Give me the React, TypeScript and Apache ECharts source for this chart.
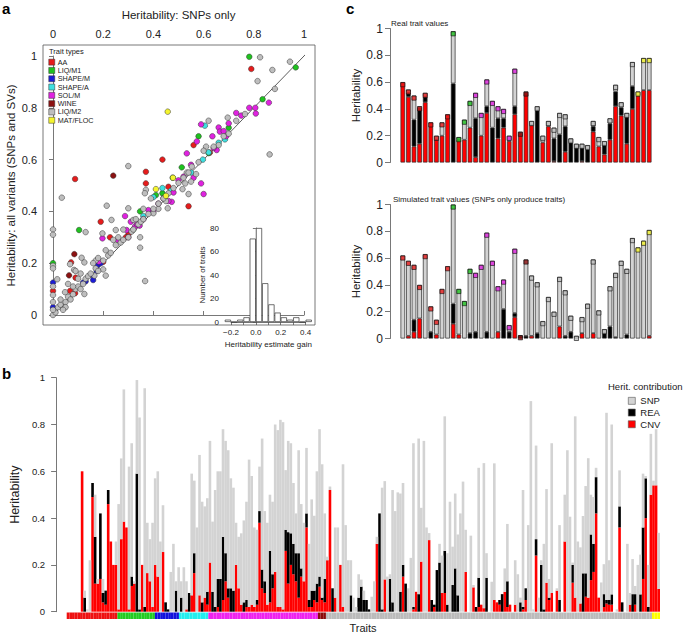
import React, { useEffect, useRef } from 'react';
import * as echarts from 'echarts';

const FONT = '"Liberation Sans", Arial, Helvetica, sans-serif';

// ---------- trait types ----------
const traitTypes = ['AA', 'LIQ/M1', 'SHAPE/M', 'SHAPE/A', 'SOL/M', 'WINE', 'LIQ/M2', 'MAT/FLOC'];
const traitColors = ['#e61c1c', '#1fc21f', '#1c1cd6', '#3ee0e0', '#e022e0', '#8c1212', '#bebebe', '#f4f42e'];
const stripColors = ['#ee1111', '#22cc22', '#1111dd', '#22eeee', '#ee22ee', '#8b0a0a', '#bbbbbb', '#ffff00'];
const traitGroupSizes = [19, 14, 9, 11, 41, 3, 122, 4];

// ---------- panel a: scatter (x = SNPs only, y = all variants) ----------
const pointsAA = [[0.79,0.95],[0.56,0.656],[0.436,0.6],[0.37,0.553],[0.37,0.508],[0.46,0.495],[0.54,0.42],[0.625,0.627],[0.088,0.525],[0.19,0.36],[0.227,0.3],[0.3,0.31],[0.072,0.203],[0.09,0.144],[0.0,0.093],[0.068,0.093],[0.088,0.084],[0.2,0.205],[0.29,0.3]];
const pointsLIQM1 = [[0.782,0.997],[0.967,0.956],[0.835,0.833],[0.7,0.723],[0.58,0.69],[0.513,0.57],[0.477,0.53],[0.41,0.463],[0.436,0.47],[0.347,0.4],[0.104,0.328],[0.0,0.2],[0.62,0.625],[0.32,0.33]];
const pointsSHAPEM = [[0.0,0.125],[0.16,0.135],[0.174,0.17],[0.178,0.193],[0.15,0.155],[0.13,0.13],[0.19,0.2],[0.12,0.125],[0.0,0.03]];
const pointsSHAPEA = [[0.605,0.731],[0.597,0.6],[0.62,0.628],[0.685,0.678],[0.436,0.49],[0.4,0.455],[0.36,0.382],[0.55,0.55],[0.47,0.48],[0.66,0.665],[0.39,0.4]];
const pointsSOLM = [[0.782,0.8],[0.806,0.8],[0.808,0.778],[0.86,0.82],[0.73,0.78],[0.7,0.74],[0.66,0.724],[0.665,0.708],[0.635,0.69],[0.59,0.736],[0.573,0.67],[0.533,0.624],[0.652,0.637],[0.56,0.53],[0.59,0.508],[0.6,0.467],[0.52,0.534],[0.48,0.473],[0.473,0.437],[0.42,0.43],[0.38,0.405],[0.327,0.341],[0.293,0.328],[0.287,0.382],[0.258,0.29],[0.197,0.296],[0.183,0.206],[0.31,0.36],[0.335,0.35],[0.345,0.345],[0.4,0.4],[0.44,0.45],[0.46,0.44],[0.69,0.69],[0.64,0.645],[0.55,0.58],[0.5,0.52],[0.36,0.37],[0.3,0.3],[0.75,0.77],[0.68,0.71]];
const pointsWINE = [[0.24,0.538],[0.085,0.235],[0.064,0.153]];
const pointsLIQM2 = [[0.825,0.995],[0.944,0.978],[0.874,0.946],[0.815,0.903],[0.884,0.873],[0.863,0.62],[0.765,0.776],[0.73,0.75],[0.696,0.762],[0.62,0.75],[0.61,0.65],[0.6,0.634],[0.66,0.656],[0.7,0.7],[0.553,0.573],[0.533,0.55],[0.527,0.508],[0.516,0.486],[0.54,0.467],[0.55,0.515],[0.57,0.544],[0.457,0.412],[0.45,0.44],[0.42,0.41],[0.4,0.393],[0.37,0.483],[0.366,0.47],[0.3,0.575],[0.035,0.453],[0.214,0.422],[0.3,0.412],[0.233,0.367],[0.25,0.328],[0.32,0.367],[0.313,0.322],[0.347,0.3],[0.347,0.26],[0.367,0.131],[0.13,0.32],[0.0,0.33],[0.0,0.31],[0.197,0.315],[0.0,0.19],[0.0,0.18],[0.0,0.11],[0.0,0.077],[0.017,0.138],[0.114,0.221],[0.125,0.203],[0.068,0.196],[0.084,0.174],[0.165,0.152],[0.2,0.176],[0.21,0.152],[0.125,0.081],[0.048,0.088],[0.035,0.032],[0.0,0.0],[0.01,0.01],[0.02,0.03],[0.03,0.04],[0.05,0.05],[0.06,0.07],[0.07,0.06],[0.08,0.08],[0.09,0.1],[0.1,0.11],[0.11,0.1],[0.12,0.12],[0.13,0.14],[0.14,0.15],[0.15,0.16],[0.17,0.18],[0.18,0.17],[0.2,0.21],[0.22,0.23],[0.23,0.24],[0.25,0.27],[0.27,0.28],[0.28,0.29],[0.3,0.3],[0.32,0.33],[0.34,0.35],[0.35,0.36],[0.36,0.37],[0.38,0.39],[0.4,0.41],[0.42,0.43],[0.44,0.45],[0.46,0.47],[0.48,0.49],[0.5,0.51],[0.52,0.53],[0.54,0.55],[0.58,0.59],[0.64,0.65],[0.68,0.69],[0.05,0.03],[0.04,0.02],[0.0,0.05],[0.0,0.02],[0.03,0.06],[0.08,0.11],[0.1,0.14],[0.06,0.12],[0.17,0.21],[0.26,0.3],[0.28,0.33],[0.39,0.45],[0.36,0.41],[0.33,0.37],[0.24,0.29],[0.21,0.25],[0.11,0.16],[0.09,0.17],[0.16,0.2],[0.18,0.22]];
const pointsMATFLOC = [[0.457,0.785],[0.478,0.53],[0.41,0.486],[0.45,0.46]];
const scatterByType = [pointsAA, pointsLIQM1, pointsSHAPEM, pointsSHAPEA, pointsSOLM, pointsWINE, pointsLIQM2, pointsMATFLOC];
const identityLine = [[-0.04, -0.04], [1.04, 1.04]];

// ---------- panel a inset: histogram of heritability estimate gain ----------
const histBinCenters = [-0.225,-0.175,-0.125,-0.075,-0.025,0.025,0.075,0.125,0.175,0.225,0.275,0.325,0.375,0.425];
const histCounts = [2, 0, 2, 4, 71, 80, 33, 15, 8, 4, 2, 4, 0, 2];
const histTickLabels: Record<string, string> = { '-0.2': '\u22120.2', '0': '0.0', '0.2': '0.2', '0.4': '0.4' };

// ---------- panel b: contributions per trait (223 traits) ----------
const cnvB = [0.6,0,0,0,0.49,0.12,0.12,0.14,0.04,0.03,0.46,0.3,0.2,0.2,0.01,0.31,0.385,0.36,0.01,
  0.11,0.12,0,0,0.2,0,0.165,0.13,0.02,0.2,0.15,0,0.255,0,
  0,0,0,0,0,0,0,0.01,0,
  0.07,0.165,0,0.07,0,0.06,0.03,0.21,0,0,0.02,
  0,0.05,0.13,0.06,0,0,0.2,0.1,0.03,0,0.02,0.02,0.03,0.02,0.03,0.38,0.1,0.08,0.03,0.04,0.1,0.17,0.02,0.02,0.01,0.26,0.12,0.2,0.16,0.13,0.06,0.15,0.13,0.36,0.02,0.02,0.05,0.04,0.107,0.05,0.04,
  0.22,0.52,0,
  0.06,0,0.2,0.02,0,0,0,0,0,0,0,0,0,0,0,0,0.29,0,0,0.138,0,0,0,0,0,0,0.15,0,0,0,0.01,0.085,0,0.214,0,0,0.306,0,0.02,0,0,0.08,0.08,0,0,0,0,0,0,0,0.17,0,0,0.104,0,0.02,0.03,0.015,0,0,0,0.05,0.04,0.03,0,0.085,0.02,0.03,0,0.03,0,0,0.01,0.05,0,0,0,0.24,0,0,0,0.124,0.05,0.08,0,0.09,0,0,0.3,0,0,0.124,0.06,0,0.035,0,0.064,0.06,0.135,0.17,0.42,0.06,0,0.02,0.035,0.03,0.03,0,0,0.36,0,0,0,0.03,0,0.03,0,0,0.14,0.4,0,
  0.5,0.54,0.54,0.097];
const reaB = [0,0.06,0,0,0.06,0.2,0,0.28,0.04,0.06,0.06,0,0,0,0,0,0,0,0,
  0.04,0,0.59,0.01,0,0.02,0,0,0,0,0,0,0,0.04,
  0.01,0,0,0.09,0,0.06,0,0,0.08,
  0,0.085,0,0,0.04,0,0.055,0,0.085,0.02,0.12,
  0.14,0.27,0.12,0.04,0.1,0.09,0,0,0,0.04,0.03,0,0,0,0.02,0.05,0.08,0.05,0,0.22,0.06,0,0,0,0,0.09,0.22,0.135,0.13,0.12,0.19,0.035,0,0.06,0.03,0.07,0.04,0.08,0.043,0.01,0.1,
  0,0,0.1,
  0,0,0,0,0,0,0.07,0,0,0.06,0.107,0.05,0.05,0.01,0,0,0,0.42,0.01,0,0,0.14,0.04,0,0,0.085,0.05,0.12,0,0,0.01,0,0.075,0,0,0,0,0.05,0.01,0.178,0.21,0,0.18,0.03,0,0.114,0.185,0.07,0,0,0,0,0,0,0.02,0.125,0,0,0.145,0,0,0,0,0.02,0.075,0,0.11,0,0,0,0,0.04,0.01,0.05,0,0,0,0.07,0,0.2,0.01,0,0.01,0,0,0,0.05,0,0,0,0,0.076,0,0,0,0.164,0.1,0,0.195,0.12,0.155,0,0,0.055,0.015,0.02,0.044,0,0,0.09,0.04,0,0,0,0.075,0.045,0,0.074,0.22,0.17,0.02,
  0,0,0,0];
const snpB = [0,0.03,0.01,0.22,0,0.18,0.02,0,0.06,0,0,0,0,0.1,0.45,0.345,0.565,0,0.61,
  0.57,0.01,0.4,0.82,0,0.935,0.215,0.18,0.36,0.37,0.45,0.3,0.2,0,
  0,0.17,0.29,0.04,0.19,0.07,0.19,0.12,0,
  0.52,0.31,0.36,0.6,0.43,0.39,0.4,0.52,0.3,0.5,0.46,
  0.46,0.46,0.48,0.59,0.47,0.44,0.18,0.22,0.305,0.35,0.42,0.63,0.55,0.34,0.3,0.19,0.56,0.3,0.35,0.24,0.31,0.63,0.756,0.8,0.8,0.255,0.39,0.385,0.26,0.17,0.44,0.275,0.25,0.28,0.24,0.39,0.32,0.48,0.63,0.57,0.28,
  0.015,0.015,0,
  0.3,0.36,0,0.61,0.37,0.22,0.15,0.06,0.02,0.1,0.03,0.04,0,0,0.064,0.13,0.03,0,0.52,0.42,0.15,0.02,0.48,0.43,0.51,0.42,0.35,0,0.1,0.23,0.7,0,0.665,0.23,0.73,0.36,0.03,0,0,0,0.08,0.16,0.575,0.22,0.47,0.164,0.32,0.26,0.42,0.556,0.18,0,0.325,0.01,0,0.47,0,0.62,0.105,0,0.128,0.584,0,0,0,0.1,0.245,0,0,0.19,0.16,0.02,0.5,0,0.37,0.9,0.01,0.4,0.06,0.02,0.28,0.4,0.08,0.64,0,0.01,0.32,0,0.2,0.69,0.406,0.01,0.775,0.3,0.24,0.245,0.373,0.596,0.17,0.2,0.04,0,0.125,0.128,0.8,0.17,0.726,0,0.01,0.154,0,0,0.29,0.05,0.15,0.035,0.2,0.17,0.23,0.01,0.18,0.26,
  0.02,0.24,0.24,0.38];

// ---------- panel c: subset of 45 traits ----------
const cGroupTypeIdx = [0, 1, 4, 5, 6, 7];
const cGroupSizes = [9, 4, 8, 2, 19, 3];
const realCNV = [0.6,0.49,0.12,0.14,0.45,0.3,0.17,0.2,0.36,0,0.17,0.17,0.26,0.04,0.2,0.37,0,0.18,0.26,0.16,0.36,0.22,0.52,0.28,0,0.15,0.27,0.01,0,0.08,0,0,0.01,0,0.23,0.12,0.06,0.17,0.42,0.35,0.14,0.4,0.5,0.54,0.54];
const realREA = [0,0.03,0.2,0.27,0.04,0,0,0,0,0.59,0,0,0,0.29,0,0.05,0.26,0.15,0.07,0,0.06,0,0,0,0.39,0,0,0.17,0.21,0.19,0.15,0.11,0.1,0.1,0.04,0,0.07,0.12,0.11,0.06,0.2,0.17,0,0,0];
const realSNP = [0,0.025,0.18,0.01,0.03,0,0.03,0.1,0,0.39,0.02,0.15,0.2,0.19,0.17,0.2,0.2,0.09,0.07,0.04,0.28,0.01,0.01,0.03,0.03,0.05,0.04,0.08,0.16,0.09,0.03,0.03,0.03,0.03,0.04,0.07,0.03,0.04,0.05,0.04,0.03,0.18,0.03,0.24,0.24];
const simCNV = [0,0.02,0.05,0.15,0,0,0.03,0,0,0.11,0.03,0,0,0,0,0,0,0.05,0,0,0.16,0,0,0.02,0,0,0,0,0.09,0,0,0,0.04,0,0.04,0,0,0,0,0,0,0,0,0,0.02];
const simREA = [0,0,0.09,0,0,0.05,0,0,0,0.15,0,0,0.04,0.05,0,0.05,0,0,0.22,0.05,0.03,0.02,0.02,0,0.04,0,0,0,0,0.02,0.05,0,0,0,0,0,0.04,0.09,0.01,0,0.03,0,0,0,0];
const simSNP = [0.62,0.56,0.41,0.25,0.63,0.19,0.11,0.37,0.54,0.74,0.34,0.28,0.48,0.44,0.55,0.74,0.58,0.34,0.22,0.05,0.48,0.005,0.57,0.45,0.38,0.13,0.31,0.2,0.37,0.34,0.12,0.02,0.12,0.26,0.55,0.21,0.03,0.3,0.48,0.58,0.49,0.75,0.68,0.73,0.79];

const contribNames = ['SNP', 'REA', 'CNV'];
const contribColors: Record<string, string> = { SNP: '#d3d3d3', REA: '#000000', CNV: '#ff0000' };
const yTicks01 = { min: 0, max: 1, interval: 0.2 };

function expandGroups(sizes: number[], idx: number[]) {
  const out: number[] = [];
  sizes.forEach((n, g) => { for (let k = 0; k < n; k++) out.push(idx[g]); });
  return out;
}

function buildOption() {
  const catsB = cnvB.map((_, i) => 'T' + (i + 1));
  const bTypes = expandGroups(traitGroupSizes, traitGroupSizes.map((_, i) => i));
  const cTypes = expandGroups(cGroupSizes, cGroupTypeIdx);
  const catsC = realCNV.map((_, i) => 'C' + (i + 1));

  const axisLine = { show: true, lineStyle: { color: '#555', width: 0.8 } };
  const axisTick = { show: true, length: 4, lineStyle: { color: '#555', width: 0.8 } };
  const hidden = { show: false };

  const cBar = (name: string, vals: number[], xi: number, stack: string) => ({
    type: 'bar', name, xAxisIndex: xi, yAxisIndex: xi, stack, barCategoryGap: '18%',
    data: vals.map(v => ({ value: v, itemStyle: v === 0 ? { borderWidth: 0 } : {} })),
    itemStyle: { color: contribColors[name], borderColor: '#2a2a2a', borderWidth: 0.7 },
    silent: true,
  });
  const cMarkers = (cnv: number[], rea: number[], snp: number[], xi: number) => ({
    type: 'scatter', name: 'marker' + xi, xAxisIndex: xi, yAxisIndex: xi,
    data: cnv.map((v, i) => ({ value: +(v + rea[i] + snp[i]).toFixed(4), itemStyle: { color: traitColors[cTypes[i]] } })),
    symbol: 'rect', symbolSize: 4.2, symbolOffset: [0, 2.6],
    itemStyle: { borderColor: '#111', borderWidth: 0.8 }, clip: false, z: 5, silent: true,
  });
  const bBar = (name: string, vals: number[]) => ({
    type: 'bar', name, xAxisIndex: 4, yAxisIndex: 4, stack: 'b', barCategoryGap: '0%',
    data: vals, itemStyle: { color: contribColors[name] }, silent: true,
  });

  const series: any[] = [];
  series.push({
    type: 'line', xAxisIndex: 0, yAxisIndex: 0, data: identityLine, symbol: 'none',
    lineStyle: { color: '#333', width: 0.8 }, clip: false, silent: true, z: 1,
  });
  traitTypes.forEach((t, i) => {
    series.push({
      type: 'scatter', name: t, xAxisIndex: 0, yAxisIndex: 0, data: scatterByType[i],
      symbolSize: 5.6, itemStyle: { color: traitColors[i], borderColor: '#333', borderWidth: 0.5, opacity: 1 },
      clip: false, z: 3, silent: true,
    });
  });
  series.push({
    type: 'bar', name: 'hist', xAxisIndex: 1, yAxisIndex: 1,
    data: histBinCenters.map((c, i) => [c, histCounts[i]]), barWidth: 6.2,
    itemStyle: { color: '#ffffff', borderColor: '#333', borderWidth: 0.7 }, clip: false, silent: true,
  });
  series.push(cBar('CNV', realCNV, 2, 'cr'), cBar('REA', realREA, 2, 'cr'), cBar('SNP', realSNP, 2, 'cr'));
  series.push(cMarkers(realCNV, realREA, realSNP, 2));
  series.push(cBar('CNV', simCNV, 3, 'cs'), cBar('REA', simREA, 3, 'cs'), cBar('SNP', simSNP, 3, 'cs'));
  series.push(cMarkers(simCNV, simREA, simSNP, 3));
  series.push(bBar('CNV', cnvB), bBar('REA', reaB), bBar('SNP', snpB));
  series.push({
    type: 'bar', name: 'strip', xAxisIndex: 5, yAxisIndex: 5, barCategoryGap: '0%',
    data: bTypes.map(t => ({ value: 1, itemStyle: { color: stripColors[t] } })), silent: true,
  });

  const txt = (text: string, x: number, y: number, fontSize: number, extra: any = {}) => ({
    type: 'text', x, y, silent: true,
    style: { text, fontSize, fontFamily: FONT, fill: '#1a1a1a', verticalAlign: 'middle', align: 'left', ...extra },
  });

  return {
    animation: false,
    backgroundColor: '#ffffff',
    textStyle: { fontFamily: FONT },
    grid: [
      { left: 53, top: 56, width: 251, height: 259 },
      { left: 231, top: 228, width: 74.6, height: 94 },
      { left: 400, top: 28.5, width: 252, height: 134 },
      { left: 400, top: 204.5, width: 252, height: 134 },
      { left: 66.7, top: 377.7, width: 593.3, height: 234 },
      { left: 66.7, top: 612.5, width: 593.3, height: 6.5 },
    ],
    xAxis: [
      {
        type: 'value', gridIndex: 0, position: 'top', min: 0, max: 1, interval: 0.2, offset: 11,
        axisLine, axisTick, splitLine: hidden,
        axisLabel: { fontSize: 11, margin: 6, color: '#222' },
        name: 'Heritability: SNPs only', nameLocation: 'middle', nameGap: 24,
        nameTextStyle: { fontSize: 11.5, color: '#222' },
      },
      {
        type: 'value', gridIndex: 1, position: 'bottom', min: -0.2, max: 0.4, interval: 0.1, offset: 3.5,
        axisLine, axisTick: { ...axisTick, length: 3 }, splitLine: hidden,
        axisLabel: {
          fontSize: 8, margin: 3, color: '#222', showMinLabel: true, showMaxLabel: true,
          formatter: (v: number) => histTickLabels[String(Math.round(v * 10) / 10)] ?? '',
        },
        name: 'Heritability estimate gain', nameLocation: 'middle', nameGap: 15,
        nameTextStyle: { fontSize: 8, color: '#222' },
      },
      { type: 'category', gridIndex: 2, data: catsC, show: false },
      { type: 'category', gridIndex: 3, data: catsC, show: false },
      { type: 'category', gridIndex: 4, data: catsB, show: false },
      { type: 'category', gridIndex: 5, data: catsB, show: false },
    ],
    yAxis: [
      {
        type: 'value', gridIndex: 0, ...yTicks01, offset: 10, axisLine, axisTick, splitLine: hidden,
        axisLabel: { fontSize: 11, margin: 6, color: '#222' },
        name: 'Heritability: all variants (SNPs and SVs)', nameLocation: 'middle', nameGap: 26,
        nameTextStyle: { fontSize: 11.5, color: '#222' },
      },
      {
        type: 'value', gridIndex: 1, min: 0, max: 80, interval: 20, offset: 9, axisLine,
        axisTick: { ...axisTick, length: 3 }, splitLine: hidden,
        axisLabel: { fontSize: 8, margin: 3, color: '#222' },
        name: 'Number of traits', nameLocation: 'middle', nameGap: 16,
        nameTextStyle: { fontSize: 8, color: '#222' },
      },
      {
        type: 'value', gridIndex: 2, ...yTicks01, offset: 10, axisLine, axisTick: { ...axisTick, length: 5 }, splitLine: hidden,
        axisLabel: { fontSize: 12, margin: 7, color: '#222' },
        name: 'Heritability', nameLocation: 'middle', nameGap: 28, nameTextStyle: { fontSize: 11.5, color: '#222' },
      },
      {
        type: 'value', gridIndex: 3, ...yTicks01, offset: 10, axisLine, axisTick: { ...axisTick, length: 5 }, splitLine: hidden,
        axisLabel: { fontSize: 12, margin: 7, color: '#222' },
        name: 'Heritability', nameLocation: 'middle', nameGap: 28, nameTextStyle: { fontSize: 11.5, color: '#222' },
      },
      {
        type: 'value', gridIndex: 4, ...yTicks01, offset: 24.7, axisLine, axisTick: { ...axisTick, length: 5 }, splitLine: hidden,
        axisLabel: { fontSize: 9.5, margin: 11, color: '#222' },
        name: 'Heritability', nameLocation: 'middle', nameGap: 32, nameTextStyle: { fontSize: 12.5, color: '#222' },
      },
      { type: 'value', gridIndex: 5, min: 0, max: 1, show: false },
    ],
    legend: [
      {
        data: traitTypes, left: 48.5, top: 58, orient: 'vertical', itemWidth: 6, itemHeight: 6, itemGap: 0,
        icon: 'rect', padding: 0, selectedMode: false, itemStyle: { borderColor: '#333', borderWidth: 0.5 },
        textStyle: { fontSize: 7.2, lineHeight: 8.3, color: '#1a1a1a', padding: [0, 0, 0, -2] },
      },
      {
        data: contribNames, left: 628, top: 395, orient: 'vertical', itemWidth: 7, itemHeight: 7, itemGap: 0,
        icon: 'rect', padding: 0, selectedMode: false,
        itemStyle: { borderColor: '#555', borderWidth: 0.6 },
        textStyle: { fontSize: 9.5, lineHeight: 11.7, color: '#1a1a1a' },
      },
    ],
    graphic: [
      { type: 'rect', shape: { x: 43, y: 45, width: 272, height: 280 }, style: { fill: 'none', stroke: '#555', lineWidth: 0.8 }, silent: true, z: 0 },
      txt('a', 2, 8, 15, { fontWeight: 'bold', fill: '#000' }),
      txt('b', 2, 373, 15, { fontWeight: 'bold', fill: '#000' }),
      txt('c', 346, 8, 15, { fontWeight: 'bold', fill: '#000' }),
      txt('Trait types', 49, 51, 7.5),
      txt('Real trait values', 391, 23, 8),
      txt('Simulated trait values (SNPs only produce traits)', 393, 199, 8),
      txt('Herit. contribution', 608, 386, 9.5),
      txt('Traits', 363, 628, 11, { align: 'center' }),
    ],
    series,
  };
}

export default function App() {
  const ref = useRef<HTMLDivElement>(null);
  useEffect(() => {
    document.body.style.margin = '0';
    const chart = echarts.init(ref.current!, null, { renderer: 'svg' });
    chart.setOption(buildOption() as any);
    return () => chart.dispose();
  }, []);
  return <div ref={ref} style={{ width: 685, height: 635 }} />;
}
